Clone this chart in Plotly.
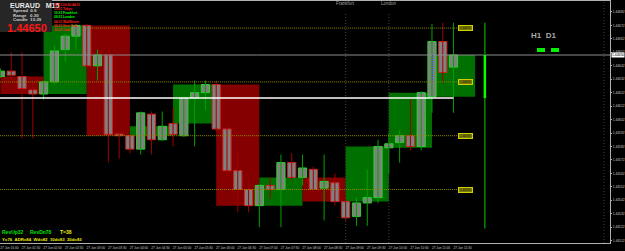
import plotly.graph_objects as go
import numpy as np

# ---------------- data ----------------
opens  = [1.44634,1.44638,1.44634,1.44624,1.44621,1.44630,1.44654,1.44664,1.44672,1.44642,
          1.44650,1.44591,1.44590,1.44580,1.44606,1.44587,1.44599,1.44590,1.44618,1.44622,
          1.44628,1.44595,1.44564,1.44550,1.44538,1.44553,1.44550,1.44570,1.44559,1.44565,
          1.44551,1.44555,1.44541,1.44530,1.44540,1.44544,1.44581,1.44585,1.44590,1.44582,
          1.44619,1.44660,1.44641]
highs  = [1.44640,1.44652,1.44652,1.44629,1.44631,1.44657,1.44666,1.44673,1.44673,1.44654,
          1.44651,1.44593,1.44591,1.44608,1.44608,1.44608,1.44611,1.44619,1.44631,1.44631,
          1.44631,1.44598,1.44578,1.44558,1.44554,1.44559,1.44576,1.44577,1.44576,1.44567,
          1.44576,1.44562,1.44544,1.44544,1.44565,1.44587,1.44592,1.44594,1.44617,1.44623,
          1.44673,1.44674,1.44674]
lows   = [1.44633,1.44631,1.44588,1.44588,1.44617,1.44628,1.44645,1.44654,1.44640,1.44631,
          1.44570,1.44573,1.44577,1.44576,1.44576,1.44586,1.44582,1.44589,1.44582,1.44609,
          1.44593,1.44559,1.44533,1.44533,1.44522,1.44543,1.44522,1.44557,1.44553,1.44548,
          1.44527,1.44538,1.44527,1.44523,1.44523,1.44540,1.44562,1.44570,1.44579,1.44579,
          1.44607,1.44629,1.44607]
closes = [1.44638,1.44635,1.44625,1.44621,1.44630,1.44653,1.44664,1.44672,1.44642,1.44650,
          1.44591,1.44590,1.44580,1.44607,1.44587,1.44597,1.44591,1.44618,1.44622,1.44628,
          1.44595,1.44564,1.44550,1.44538,1.44553,1.44550,1.44570,1.44559,1.44566,1.44550,
          1.44556,1.44541,1.44529,1.44540,1.44544,1.44582,1.44584,1.44590,1.44582,1.44622,
          1.44660,1.44637,1.44650]

time_labels = ["27 Jun 01:00","27 Jun 01:30","27 Jun 02:00","27 Jun 02:30","27 Jun 03:00",
               "27 Jun 03:30","27 Jun 04:00","27 Jun 04:30","27 Jun 05:00","27 Jun 05:30",
               "27 Jun 06:00","27 Jun 06:30","27 Jun 07:00","27 Jun 07:30","27 Jun 08:00",
               "27 Jun 08:30","27 Jun 09:00","27 Jun 09:30","27 Jun 10:00","27 Jun 10:30",
               "27 Jun 11:00","27 Jun 11:30"]
price_ticks = [1.44682,1.44672,1.44662,1.44652,1.44642,1.44632,1.44622,1.44612,1.44602,
               1.44592,1.44582,1.44572,1.44562,1.44552,1.44542,1.44532,1.44522,1.44512]

levels = [1.44670, 1.44630, 1.44590, 1.44550]
level_start = [8, 0, 0, 0]
current_price = 1.44650
day_open, day_high, day_low = 1.44618, 1.44674, 1.44521
session_idx = [32, 36]
session_names = ["Frankfurt", "London"]

info_lines = [("20:11.00.00:44:31", "#ff2020"), ("13:31 Tokyo", "#ff2020"),
              ("10:31 Frankfurt", "#00ff00"), ("09:31 London", "#00ff00"),
              ("04:31 WallStreet", "#ff2020"), ("06:31 New York", "#ff2020"),
              ("10:31 Gold", "#ff2020")]

# ---------------- figure ----------------
o = np.array(opens); h = np.array(highs); l = np.array(lows); c = np.array(closes)
n = len(o)
idx = np.arange(n)
bull = c >= o

W, TOP, BOT = 610, 1, 243
def px(x): return x / W
def py(y): return (BOT - y) / (BOT - TOP)

fig = go.Figure()

# wicks
for mask, col in [(bull, "#00a000"), (~bull, "#a00000")]:
    xs, ys = [], []
    for i in idx[mask]:
        xs += [i, i, None]; ys += [l[i], h[i], None]
    fig.add_trace(go.Scatter(x=xs, y=ys, mode="lines", line=dict(color=col, width=1),
                             hoverinfo="skip", showlegend=False))

# bodies
base = np.minimum(o, c)
height = np.maximum(np.abs(c - o), 0.000012)
fig.add_trace(go.Bar(x=idx, y=height, base=base, width=0.76,
                     marker=dict(color="#808080",
                                 line=dict(color=["#2ed02e" if b else "#d02424" for b in bull], width=1)),
                     showlegend=False, hoverinfo="skip"))

shapes = []
# hourly boxes (from open of first to close of last M15 candle in each hour)
for g in range(0, n, 4):
    last = min(g + 3, n - 1)
    y0, y1 = o[g], c[last]
    col = "#007000" if y1 >= y0 else "#850000"
    shapes.append(dict(type="rect", xref="x", yref="y", x0=g, x1=g + 4, y0=y0, y1=y1,
                       fillcolor=col, line=dict(width=0), layer="below"))

# session vertical lines
for s in session_idx:
    shapes.append(dict(type="line", xref="x", yref="paper", x0=s, x1=s, y0=0, y1=py(12),
                       line=dict(color="#444444", width=1, dash="1px,2px")))
shapes.append(dict(type="line", xref="paper", yref="paper", x0=px(604), x1=px(604), y0=0, y1=1,
                   line=dict(color="#3a3a3a", width=1, dash="1px,2px")))

# level dotted lines
for lv, st in zip(levels, level_start):
    shapes.append(dict(type="line", xref="x", yref="y", x0=st - 0.05, x1=42.4, y0=lv, y1=lv,
                       line=dict(color="#8c8c00", width=1, dash="1px,1px")))
# day open line (white)
shapes.append(dict(type="line", xref="x", yref="y", x0=-0.05, x1=n - 1, y0=day_open, y1=day_open,
                   line=dict(color="#ffffff", width=1.5)))
# current price line
shapes.append(dict(type="line", xref="paper", yref="y", x0=0, x1=1, y0=current_price, y1=current_price,
                   line=dict(color="#8c8c8c", width=1)))
# daily range bar
dx = 44.9
shapes.append(dict(type="line", xref="x", yref="y", x0=dx, x1=dx, y0=day_low, y1=day_high,
                   line=dict(color="#008a00", width=1.5)))
shapes.append(dict(type="line", xref="x", yref="y", x0=dx, x1=dx, y0=day_open, y1=current_price,
                   line=dict(color="#00ff00", width=2.5)))
# small blue marker line
shapes.append(dict(type="line", xref="x", yref="y", x0=40.05, x1=40.05, y0=current_price, y1=levels[1],
                   line=dict(color="#3050ff", width=1, dash="1px,1px")))

# info panel
shapes.append(dict(type="rect", xref="paper", yref="paper", x0=0, x1=px(52), y0=py(32), y1=py(0),
                   fillcolor="#262626", line=dict(width=0)))
# H1 / D1 squares
for x0 in (537, 551):
    shapes.append(dict(type="rect", xref="paper", yref="paper", x0=px(x0), x1=px(x0 + 8),
                       y0=py(52), y1=py(48), fillcolor="#00f000", line=dict(width=0)))

ann = []
F = "Liberation Sans"
def txt(x, y, s, size, color, anchor="left", bold=True, yanchor="middle", **kw):
    ann.append(dict(xref="paper", yref="paper", x=px(x), y=py(y), text=(f"<b>{s}</b>" if bold else s),
                    showarrow=False, xanchor=anchor, yanchor=yanchor, borderpad=0,
                    font=dict(family=F, size=size, color=color), **kw))

txt(9, 5.5, "EURAUD&nbsp;&nbsp;&nbsp;M15", 7, "#e6e6e6")
txt(12, 11, "Spread&nbsp;&nbsp;0.9", 4.4, "#d0d0d0")
txt(12, 15.5, "Range&nbsp;&nbsp;&nbsp;0.30", 4.4, "#d0d0d0")
txt(12, 20, "Candle&nbsp;&nbsp;13:29", 4.4, "#d0d0d0")
txt(6, 27.5, f"{current_price:.5f}", 11, "#ff1414")
info_text = "<br>".join(f"<span style='color:{col}'>{s}</span>" for s, col in info_lines)
txt(53, 1.8, info_text, 3.2, "#ff2020", yanchor="top", align="left")

txt(543.5, 35.5, "H1&nbsp;&nbsp;D1", 8, "#a8a8a8", anchor="center")
txt(1, 232, "RevUp32", 5, "#00e000")
txt(29, 232, "RevDn78", 5, "#00e000")
txt(59, 232, "T=38", 5, "#f0f000")
txt(1, 239.5, "Y=76&nbsp;&nbsp;ADR=84&nbsp;&nbsp;Wd=82&nbsp;&nbsp;10d=83&nbsp;&nbsp;20d=83", 4.3, "#f0f000")

for s, name in zip(session_idx, session_names):
    ann.append(dict(xref="x", yref="paper", x=s, y=py(4), text=name, showarrow=False,
                    xanchor="center", yanchor="middle", font=dict(family=F, size=4.5, color="#a0a0a0")))

# level labels
for lv in levels:
    ann.append(dict(xref="x", yref="y", x=43.1, y=lv, text=f"{lv:.5f}", showarrow=False,
                    xanchor="center", yanchor="middle", width=13, height=4, borderpad=0,
                    bgcolor="#7c7c00", bordercolor="#d0d000", borderwidth=1,
                    font=dict(family=F, size=3, color="#202000")))
# current price label on axis
ann.append(dict(xref="paper", yref="y", x=px(611), y=current_price, text=f"{current_price:.5f}",
                showarrow=False, xanchor="left", yanchor="middle", bgcolor="#ffffff",
                borderpad=0, font=dict(family=F, size=3.4, color="#000000")))

fig.update_layout(
    width=625, height=251, margin=dict(l=0, r=625 - W, t=TOP, b=251 - BOT),
    paper_bgcolor="#000000", plot_bgcolor="#000000",
    barmode="overlay", showlegend=False,
    shapes=shapes, annotations=ann,
    xaxis=dict(range=[-0.04, 56.5], showgrid=False, zeroline=False, showline=True, mirror=True,
               linecolor="#b0b0b0", linewidth=1, tickvals=list(range(0, n, 2)), ticktext=time_labels,
               ticks="", tickfont=dict(family=F, size=3.2, color="#c8c8c8"), ticklabelshift=9,
               ticklabelstandoff=1, automargin=False, fixedrange=True),
    yaxis=dict(range=[1.4451022, 1.4469015], side="right", showgrid=False, zeroline=False,
               showline=True, mirror=True, linecolor="#b0b0b0", linewidth=1,
               tickvals=price_ticks, tickformat=".5f", ticks="outside", ticklen=1, tickcolor="#b0b0b0",
               tickfont=dict(family=F, size=3.3, color="#c8c8c8"), ticklabelstandoff=0,
               automargin=False, fixedrange=True),
)

fig.write_html("out.html")
